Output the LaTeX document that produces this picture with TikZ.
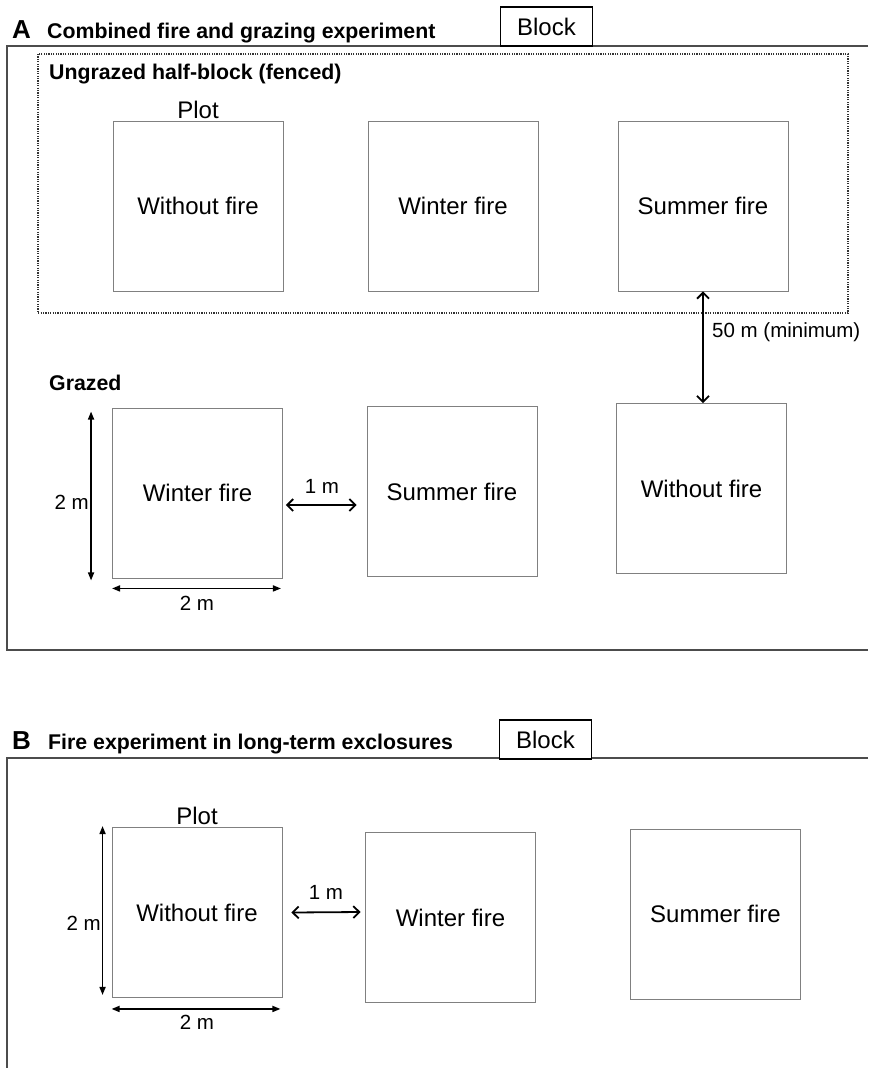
\documentclass[tikz,border=0pt]{standalone}
\usepackage{fontspec}
\setmainfont{Liberation Sans}
\usetikzlibrary{arrows.meta,positioning,calc}

\tikzset{
  plotbox/.style={draw=gray, line width=0.9pt, minimum width=170pt, minimum height=170pt, inner sep=0pt, font=\fontsize{24}{28}\selectfont},
  plotname/.style={inner sep=1pt, font=\fontsize{24}{28}\selectfont},
  blockframe/.style={draw=black!70, line width=1.4pt},
  blocktag/.style={draw, line width=1.1pt, fill=white, minimum width=92pt, minimum height=39pt, inner sep=0pt, font=\fontsize{24}{28}\selectfont},
  fence/.style={draw=black!80, line width=1.3pt, dash pattern=on 1.2pt off 1.2pt},
  heading/.style={anchor=base west, inner sep=0pt, font=\bfseries\fontsize{21.3}{25}\selectfont},
  panel/.style={anchor=base west, inner sep=0pt, font=\bfseries\fontsize{26}{30}\selectfont},
  dimlabel/.style={inner sep=1pt, font=\fontsize{20.5}{24}\selectfont},
  dimarrow/.style={{Triangle[length=8pt,width=6pt]}-{Triangle[length=8pt,width=6pt]}, line width=1.6pt},
  gaparrow/.style={{Straight Barb[length=6pt,width=12pt,line width=1.8pt]}-{Straight Barb[length=6pt,width=12pt,line width=1.8pt]}, line width=1.8pt},
}

\begin{document}
\begin{tikzpicture}[x=1pt, y=-1pt]
  \useasboundingbox (0,0) rectangle (868,1068);

  %panel A
  \draw[blockframe] (868,46) -| (7,650) -- (868,650);
  \node[blocktag] (blockA) at (546.5,26.5) {Block};
  \node[panel] (labA) at (12,38) {A};
  \node[heading] (titleA) at (47,38) {Combined fire and grazing experiment};

  %ungrazed half
  \draw[fence] (38,54) rectangle (848,313);
  \node[heading] (ungrazed) at (49,79) {Ungrazed half-block (fenced)};
  \node[plotbox] (wofA) at (198,206) {Without fire};
  \node[plotbox] (wifA) at (453,206) {Winter fire};
  \node[plotbox] (sufA) at (703,206) {Summer fire};
  \node[plotname, above=1pt of wofA] (plotA) {Plot};

  %grazed half
  \node[heading] (grazed) at (49,390) {Grazed};
  \node[plotbox] (wifG) at (197.5,493) {Winter fire};
  \node[plotbox] (sufG) at (452,491.5) {Summer fire};
  \node[plotbox] (wofG) at (701.5,488.5) {Without fire};

  \draw[gaparrow] (sufA.south) -- (sufA.south |- wofG.north);
  \node[dimlabel, anchor=west] (fifty) at (711,332) {50 m (minimum)};

  \draw[gaparrow] ([shift={(3,12)}]wifG.east) -- ([shift={(-10,13.5)}]sufG.west);
  \node[dimlabel] (oneA) at (322,486) {1 m};

  \draw[dimarrow] ([shift={(-21,4)}]wifG.north west) -- ([shift={(-21,2)}]wifG.south west);
  \node[dimlabel, anchor=east] (twoAv) at (90,502) {2 m};
  \draw[dimarrow] ([shift={(0,10)}]wifG.south west) -- ([shift={(-2,10)}]wifG.south east);
  \node[dimlabel] (twoAh) at (197,603) {2 m};

  %panel B
  \draw[blockframe] (868,758) -| (7,1072);
  \node[blocktag] (blockB) at (545.5,739.5) {Block};
  \node[panel] (labB) at (12,749) {B};
  \node[heading] (titleB) at (48,749) {Fire experiment in long-term exclosures};

  \node[plotbox] (wofB) at (197,912.5) {Without fire};
  \node[plotbox] (wifB) at (450.5,917.5) {Winter fire};
  \node[plotbox] (sufB) at (715.5,914) {Summer fire};
  \node[plotname, above=1pt of wofB] (plotB) {Plot};

  \draw[gaparrow] ([shift={(9,0)}]wofB.east) -- ([shift={(-4.5,-5.5)}]wifB.west);
  \node[dimlabel] (oneB) at (326,892) {1 m};

  \draw[dimarrow] ([shift={(-9,-1)}]wofB.north west) -- ([shift={(-9,-3)}]wofB.south west);
  \node[dimlabel, anchor=east] (twoBv) at (102,923) {2 m};
  \draw[dimarrow] ([shift={(0,11)}]wofB.south west) -- ([shift={(-2,11)}]wofB.south east);
  \node[dimlabel] (twoBh) at (197,1022) {2 m};
\end{tikzpicture}
\end{document}
